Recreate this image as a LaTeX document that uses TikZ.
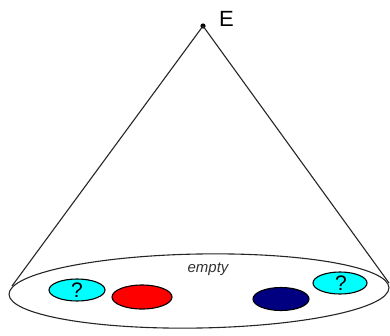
\documentclass[tikz,border=0pt]{standalone}
\usepackage{fontspec}
\setmainfont{Liberation Sans}
\definecolor{aqua}{RGB}{0,255,255}
\definecolor{pure red}{RGB}{255,0,0}
\definecolor{navyblue}{RGB}{0,0,128}
\begin{document}
\begin{tikzpicture}[x=1pt,y=-1pt,
  blob/.style={draw=black,line width=1.1pt},
  qmark/.style={font=\fontsize{21}{21}\selectfont}]
\useasboundingbox (0,0) rectangle (390,335);
\fill (203,26) circle (2.6);
\coordinate (apex) at (203,26);
\node[anchor=base west,font=\fontsize{22}{22}\selectfont,inner sep=0pt] (E) at (219,26) {E};
\coordinate (lt) at (12,286);
\coordinate (rt) at (389,283);
\draw[line width=1.1pt,draw=black!85] (lt) -- (apex) -- (rt);
\draw[line width=1.1pt,draw=black!85,fill=white,rotate around={1:(199,291)}] (199,291) ellipse [x radius=190, y radius=37];
\node[font=\itshape\fontsize{15}{15}\selectfont,inner sep=0pt,text=black!80] (empty) at (208,269) {empty};
\draw[blob,fill=aqua] (77,290) ellipse [x radius=28, y radius=11];
\node[qmark,inner sep=0pt] (q1) at (77,290) {?};
\draw[blob,fill=pure red] (142,297) ellipse [x radius=30, y radius=12];
\draw[blob,fill=navyblue] (281,299) ellipse [x radius=28, y radius=11.5];
\draw[blob,fill=aqua] (340,283) ellipse [x radius=27, y radius=11];
\node[qmark,inner sep=0pt] (q2) at (341,283) {?};
\end{tikzpicture}
\end{document}
